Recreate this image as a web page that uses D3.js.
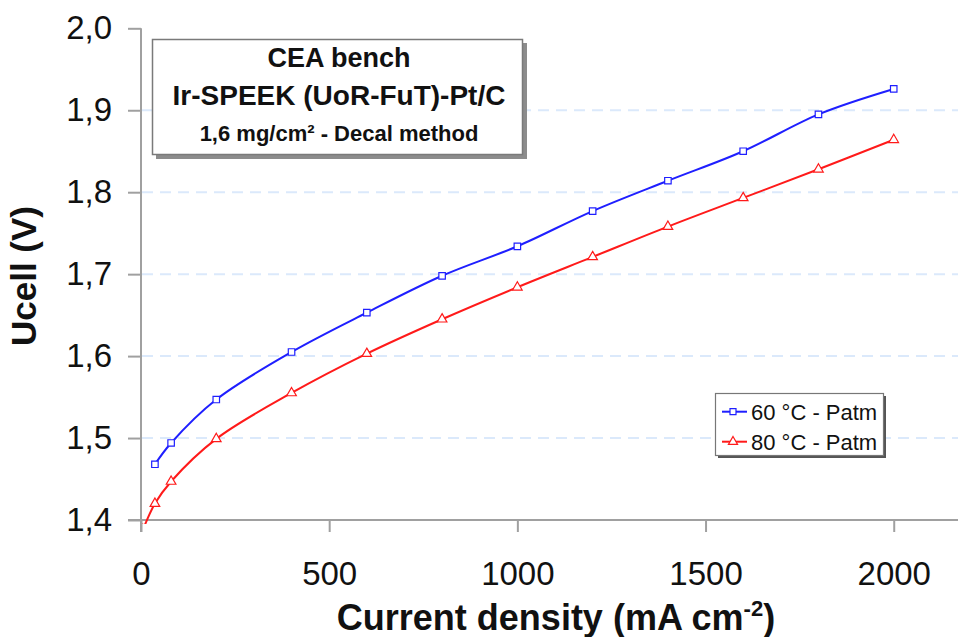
<!DOCTYPE html>
<html>
<head>
<meta charset="utf-8">
<script src="https://cdn.jsdelivr.net/npm/d3@7"></script>
<style>
  body { margin: 0; background: #fff; }
  svg { display: block; font-family: "Liberation Sans", Arial, sans-serif; }
</style>
</head>
<body>
<svg id="chart" width="958" height="637"></svg>
<script>
// Current density (mA cm-2) at which each cell voltage was measured
const current60 = [37, 80, 200, 400, 600, 800, 1000, 1200, 1400, 1600, 1800, 2000];
const ucell60 = [1.468, 1.494, 1.547, 1.605, 1.653, 1.698, 1.734, 1.777, 1.814, 1.850, 1.895, 1.926];

const current80 = [5, 37, 80, 200, 400, 600, 800, 1000, 1200, 1400, 1600, 1800, 2000];
const ucell80 = [1.388, 1.420, 1.447, 1.499, 1.555, 1.603, 1.645, 1.684, 1.721, 1.758, 1.793, 1.828, 1.864];

const seriesNames = ["60 °C - Patm", "80 °C - Patm"];
const seriesColors = ["#1f1fff", "#ff1a1a"];

const yTicks = [1.4, 1.5, 1.6, 1.7, 1.8, 1.9, 2.0];
const xTicks = [0, 500, 1000, 1500, 2000];
const titleLines = ["CEA bench", "Ir-SPEEK (UoR-FuT)-Pt/C", "1,6 mg/cm² - Decal method"];

const svg = d3.select("#chart");

const x = d3.scaleLinear().domain([0, 2200]).range([141, 969]);
const y = d3.scaleLinear().domain([1.4, 2.0]).range([520, 28.3]);

const axisColor = "#a0a0a0";
const fmt = (v) => d3.format(".1f")(v).replace(".", ",");

// Grid lines (light blue dashes)
svg.append("g")
  .selectAll("line")
  .data(yTicks.filter((v) => v > 1.4 && v < 2.0))
  .join("line")
  .attr("x1", x(0) + 1)
  .attr("x2", 958)
  .attr("y1", (d) => y(d))
  .attr("y2", (d) => y(d))
  .attr("stroke", "#dbe9fb")
  .attr("stroke-width", 2)
  .attr("stroke-dasharray", "11,7");

// Y axis: major ticks every 0.1, minor every 0.05
const yAxis = svg.append("g").attr("transform", `translate(${x(0)},0)`);
yAxis.call(d3.axisLeft(y).tickValues(d3.range(1.4, 2.0001, 0.05)).tickSize(8).tickFormat(""));
yAxis.call(d3.axisLeft(y).tickValues(yTicks).tickSize(13).tickFormat(fmt).tickPadding(16));
yAxis.selectAll(".domain").remove();
yAxis.selectAll("line").attr("stroke", axisColor).attr("stroke-width", 2);
yAxis.selectAll("text")
  .attr("font-size", 33)
  .attr("fill", "#111")
  .attr("font-family", "'Liberation Sans', Arial, sans-serif");
yAxis.append("line")
  .attr("x1", 0).attr("x2", 0)
  .attr("y1", y(2.0)).attr("y2", 532)
  .attr("stroke", axisColor).attr("stroke-width", 2);

// X axis: major ticks every 500, minor every 100
const xAxis = svg.append("g").attr("transform", `translate(0,${y(1.4)})`);
xAxis.call(d3.axisBottom(x).tickValues(d3.range(0, 2201, 100)).tickSize(8).tickFormat(""));
xAxis.call(d3.axisBottom(x).tickValues(xTicks).tickSize(12).tickFormat(d3.format("d")).tickPadding(30));
xAxis.selectAll(".domain").remove();
xAxis.selectAll("line").attr("stroke", axisColor).attr("stroke-width", 2);
xAxis.selectAll("text")
  .attr("font-size", 33)
  .attr("fill", "#111")
  .attr("font-family", "'Liberation Sans', Arial, sans-serif");
xAxis.append("line")
  .attr("x1", 128).attr("x2", 958)
  .attr("y1", 0).attr("y2", 0)
  .attr("stroke", axisColor).attr("stroke-width", 2);

// Axis titles
svg.append("text")
  .attr("transform", `translate(36,276) rotate(-90)`)
  .attr("text-anchor", "middle")
  .attr("font-size", 35)
  .attr("font-weight", "bold")
  .attr("fill", "#111")
  .text("Ucell (V)");

const xTitle = svg.append("text")
  .attr("x", 556)
  .attr("y", 630)
  .attr("text-anchor", "middle")
  .attr("font-size", 36)
  .attr("font-weight", "bold")
  .attr("fill", "#111");
xTitle.append("tspan").text("Current density (mA cm");
xTitle.append("tspan").attr("dy", -14).attr("font-size", 22).text("-2");
xTitle.append("tspan").attr("dy", 14).text(")");

// Series
svg.append("clipPath").attr("id", "plot-clip")
  .append("rect")
  .attr("x", x(0)).attr("y", 0)
  .attr("width", 958 - x(0)).attr("height", y(1.4) + 4);

const series = [
  { name: seriesNames[0], color: seriesColors[0], shape: d3.symbolSquare,
    pts: current60.map((c, i) => [c, ucell60[i]]) },
  { name: seriesNames[1], color: seriesColors[1], shape: d3.symbolTriangle,
    pts: current80.map((c, i) => [c, ucell80[i]]) }
];

// smoothed line like the spreadsheet original
const line = d3.line()
  .x((d) => x(d[0]))
  .y((d) => y(d[1]))
  .curve(d3.curveCatmullRom.alpha(0.5));
const plot = svg.append("g").attr("clip-path", "url(#plot-clip)");

series.forEach((s) => {
  plot.append("path")
    .attr("d", line(s.pts))
    .attr("fill", "none")
    .attr("stroke", s.color)
    .attr("stroke-width", 2);

  plot.append("g")
    .selectAll("path")
    .data(s.pts)
    .join("path")
    .attr("transform", (d) => `translate(${x(d[0])},${y(d[1])})`)
    .attr("d", d3.symbol().type(s.shape).size(s.shape === d3.symbolSquare ? 42 : 40))
    .attr("fill", "#fff")
    .attr("stroke", s.color)
    .attr("stroke-width", 1.2);
});

// Title box
const tb = svg.append("g");
tb.append("rect")
  .attr("x", 156).attr("y", 43).attr("width", 371).attr("height", 116)
  .attr("fill", "#8c8c8c");
tb.append("rect")
  .attr("x", 152.5).attr("y", 39.5).attr("width", 370).attr("height", 115)
  .attr("fill", "#fff").attr("stroke", "#7a7a7a").attr("stroke-width", 1.5);
tb.selectAll("text")
  .data(titleLines)
  .join("text")
  .attr("x", 339)
  .attr("y", (d, i) => [67, 105, 141][i])
  .attr("text-anchor", "middle")
  .attr("font-weight", "bold")
  .attr("font-size", (d, i) => [27, 28, 22][i])
  .attr("fill", "#111")
  .text((d) => d);

// Legend
const lg = svg.append("g");
lg.append("rect")
  .attr("x", 718).attr("y", 396).attr("width", 168).attr("height", 62)
  .attr("fill", "#555");
lg.append("rect")
  .attr("x", 715.5).attr("y", 393.5).attr("width", 168).attr("height", 62)
  .attr("fill", "#fff").attr("stroke", "#777").attr("stroke-width", 1.2);

series.forEach((s, i) => {
  const cy = 411.7 + i * 30;
  lg.append("line")
    .attr("x1", 722).attr("x2", 747)
    .attr("y1", cy).attr("y2", cy)
    .attr("stroke", s.color).attr("stroke-width", 2);
  lg.append("path")
    .attr("transform", `translate(733,${cy})`)
    .attr("d", d3.symbol().type(s.shape).size(36))
    .attr("fill", "#fff")
    .attr("stroke", s.color)
    .attr("stroke-width", 1.2);
  lg.append("text")
    .attr("x", 751)
    .attr("y", cy + 8)
    .attr("font-size", 22)
    .attr("fill", "#111")
    .text(s.name);
});
</script>
</body>
</html>
